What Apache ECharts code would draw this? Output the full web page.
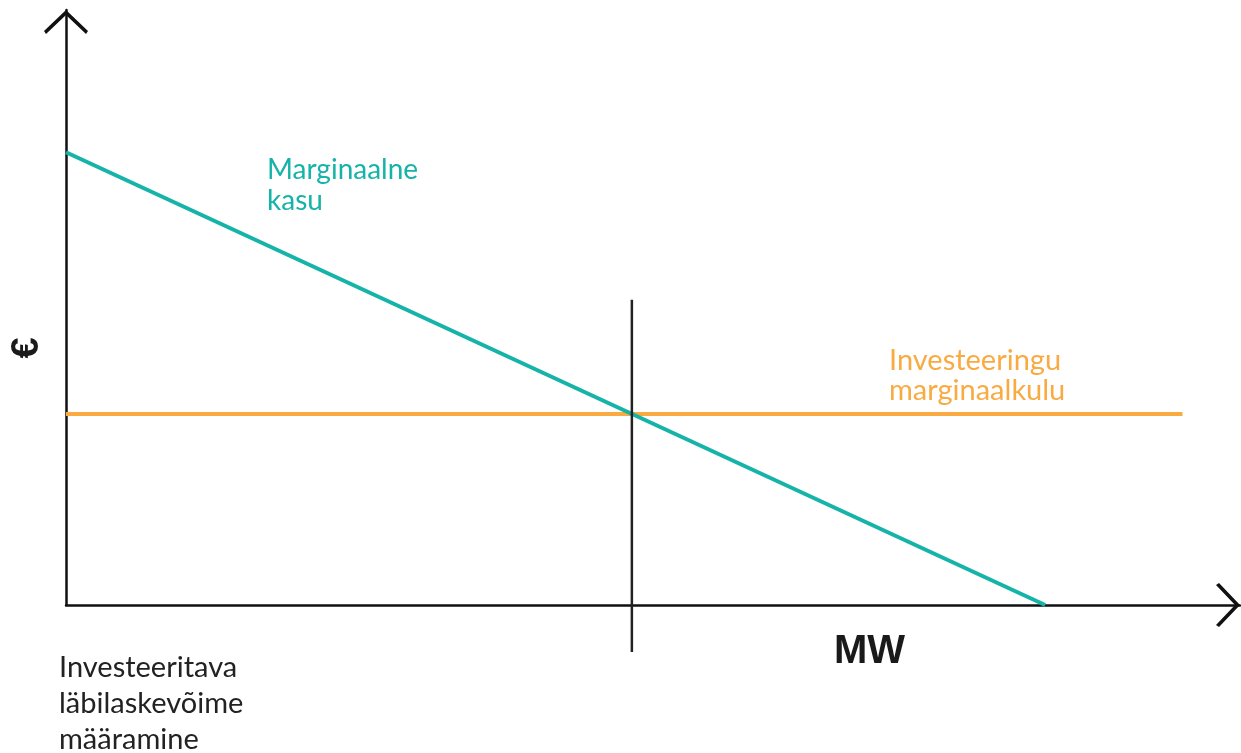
<!DOCTYPE html>
<html><head><meta charset="utf-8">
<script src="https://cdn.jsdelivr.net/npm/echarts@6/dist/echarts.min.js"></script>
<style>html,body{margin:0;padding:0;background:#fff}#c{width:1241px;height:753px}</style>
</head><body><div id="c"></div>
<script>
// Data (arbitrary units: x = MW, y = €)
const benefitName = 'Marginaalne\nkasu';
const benefitLine = [[0, 76.1], [83.4, 0]];
const costName = 'Investeeringu\nmarginaalkulu';
const costLine = [[0, 32.1], [95.1, 32.1]];
const optimumLine = [[48.2, 51.3], [48.2, -7.9]];
const xAxisName = 'MW';
const yAxisName = '€';
const footnote = 'Investeeritava\nläbilaskevõime\nmääramine';

const TEAL = '#16b3a8';
const ORANGE = '#f9aa40';
const INK = '#111';
const chevron = 'path://M22,0 L44,21 L42,24 L22,5 L2,24 L0,21 Z';

const chart = echarts.init(document.getElementById('c'));
const axisCommon = {
  type: 'value', min: 0, max: 100,
  axisLabel: { show: false }, axisTick: { show: false }, splitLine: { show: false },
  axisLine: {
    show: true,
    lineStyle: { color: INK, width: 2.5 },
    symbol: ['none', chevron], symbolSize: [44, 24], symbolOffset: [0, -12]
  }
};
chart.setOption({
  animation: false,
  grid: { left: 66, right: 1, top: 10, bottom: 148 },
  xAxis: Object.assign({}, axisCommon),
  yAxis: Object.assign({}, axisCommon),
  series: [
    { type: 'line', data: costLine, symbol: 'none', lineStyle: { color: ORANGE, width: 4 }, z: 2 },
    { type: 'line', data: benefitLine, symbol: 'none', lineStyle: { color: TEAL, width: 4 }, z: 3 },
    { type: 'line', data: optimumLine, symbol: 'none', clip: false, lineStyle: { color: '#222', width: 2.5 }, z: 4 }
  ],
  graphic: [
    { type: 'text', left: 267, top: 154, style: { text: benefitName, fill: TEAL, font: '28px Lato', lineHeight: 31 } },
    { type: 'text', left: 889, top: 346, style: { text: costName, fill: ORANGE, font: '29px Lato', lineHeight: 30 } },
    { type: 'text', left: 834, top: 632, style: { text: xAxisName, fill: '#1a1a1a', font: 'bold 40px "Liberation Sans"' } },
    { type: 'text', x: 28, y: 348, rotation: Math.PI / 2, style: { text: yAxisName, fill: '#1a1a1a', font: 'bold 38px "Liberation Sans"', align: 'center', verticalAlign: 'middle' } },
    { type: 'text', left: 59, top: 650, style: { text: footnote, fill: '#222', font: '29px Lato', lineHeight: 36 } }
  ]
});
</script></body></html>
